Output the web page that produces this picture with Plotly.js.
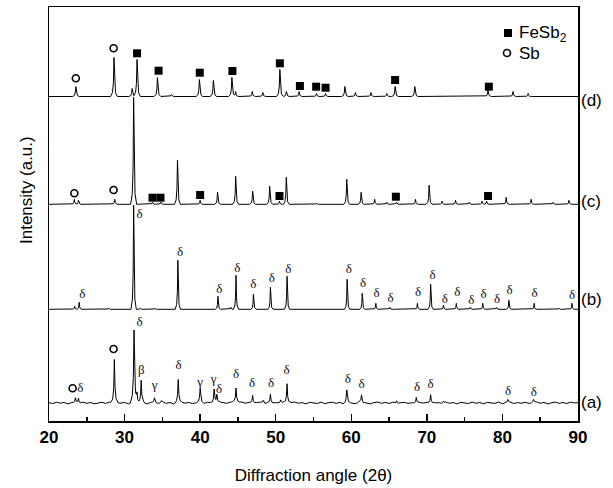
<!DOCTYPE html>
<html>
<head>
<meta charset="utf-8">
<script src="https://cdn.plot.ly/plotly-3.0.1.min.js"></script>
<style>html,body{margin:0;padding:0;background:#fff;}#chart{width:613px;height:488px;}</style>
</head>
<body>
<div id="chart"></div>
<script>
// ---------------- DATA ----------------
// Peak positions (2θ, degrees) and heights (a.u.) for each pattern, plus vertical offsets
const dBase = 324.5;
const dPos = [23.55, 28.6, 31.0, 31.65, 34.35, 36.2, 39.9, 41.75, 44.2, 44.7, 46.9, 48.3, 50.55, 51.4, 53.1, 55.4, 56.6, 59.15, 60.55, 62.6, 64.7, 65.8, 68.4, 78.1, 81.4, 83.4];
const dH   = [10, 39, 8, 37, 19, 2, 17, 16, 19, 5, 5, 4, 27, 5, 5, 3, 3, 10, 4, 4, 3, 10, 10, 7, 5, 3];

const cBase = 216.7;
const cPos = [23.35, 23.9, 28.7, 31.2, 33.7, 34.8, 37.0, 40.0, 42.3, 44.7, 46.95, 49.2, 50.5, 51.4, 55.4, 59.4, 61.3, 63.1, 64.7, 66.0, 68.5, 70.3, 72.0, 73.8, 75.6, 77.3, 77.9, 80.5, 83.8, 86.7, 88.8];
const cH   = [5, 4, 5, 107, 2, 2, 44, 4, 12, 28, 13, 18, 3, 27, 1, 25, 12, 5, 2, 2, 5, 19, 3, 4, 2, 3, 3, 7, 5, 2, 4];

const bBase = 111.7;
const bPos = [23.4, 24.0, 27.9, 31.2, 32.1, 34.0, 37.05, 42.35, 44.05, 44.75, 47.05, 49.3, 51.5, 59.45, 61.45, 63.25, 65.1, 68.75, 70.5, 72.2, 73.9, 75.75, 77.4, 79.2, 80.85, 84.2, 87.5, 89.2];
const bH   = [3, 7, 1, 104, 1, 1, 49, 13, 2, 34, 15, 22, 33, 30, 16, 6, 2, 6, 25, 4, 6, 2, 6, 2, 9, 6, 1, 6];

const aBase = 18;
const aPos = [23.5, 23.9, 28.65, 31.25, 31.65, 32.2, 33.95, 34.9, 37.1, 40.0, 41.85, 42.2, 44.75, 46.95, 48.35, 49.3, 50.65, 51.5, 59.4, 61.35, 66.0, 68.6, 70.5, 72.2, 80.7, 84.1];
const aH   = [5, 5, 44, 72, 8, 23, 5, 2, 23, 13, 14, 8, 14, 8, 3, 9, 3, 20, 13, 8, 3, 6, 9, 2, 3, 3];
// background noise of pattern (a), one value every 0.5° from 20° to 90°
const aNoise = [0.3,-0.5,0.8,-0.2,0.6,-0.9,0.4,0.1,-0.6,0.9,-0.3,0.5,-0.8,0.2,0.7,-0.4,0.9,-0.7,0.3,-0.1,
0.6,-0.8,0.4,1.0,-0.5,0.2,-0.9,0.7,0.1,-0.6,0.8,-0.3,0.5,-1.0,0.4,0.9,-0.2,0.6,-0.7,0.3,
1.1,-0.4,0.8,0.2,-0.6,1.2,0.5,-0.3,0.9,1.4,0.6,1.0,-0.2,0.7,-0.5,0.4,0.9,-0.8,0.3,-0.4,
0.6,-0.2,0.8,-0.7,0.5,1.0,-0.3,0.4,-0.9,0.7,0.2,-0.5,0.9,-0.6,0.3,0.8,-0.4,0.6,-1.0,0.5,
0.1,-0.7,0.8,-0.2,0.5,-0.9,0.4,1.0,-0.3,0.6,-0.5,0.9,-0.8,0.2,0.7,-0.4,0.5,-0.6,0.8,-0.1,
0.9,-0.7,0.3,0.6,-0.5,0.8,-0.2,0.4,-0.9,0.7,0.1,-0.6,1.0,-0.3,0.5,-0.8,0.6,0.2,-0.4,0.9,
-0.7,0.3,0.8,-0.5,0.4,-0.2,0.7,-0.9,0.5,1.0,-0.3,0.6,-0.8,0.2,0.9,-0.4,0.5,-0.6,0.8,0.1,0.3];

// Phase markers
const fesbX = [31.65, 34.5, 39.95, 44.27, 50.55, 53.2, 55.35, 56.6, 65.8, 78.2, 33.7, 34.75, 40.0, 50.5, 65.9, 78.1];
const fesbY = [367.7, 350.3, 348.3, 350.0, 357.7, 335.0, 334.3, 333.3, 341.0, 334.3, 223.3, 223.3, 226.0, 225.0, 224.3, 225.0];
const sbX = [23.55, 28.55, 23.35, 28.55, 23.13, 28.55];
const sbY = [342.7, 372.7, 227.7, 231.0, 32.7, 72.0];

const deltaX = [24.4, 32.0, 37.35, 42.55, 44.93, 47.05, 49.47, 51.67, 59.68, 61.57, 63.34, 65.19, 68.84, 70.74, 72.37, 74.04, 75.89, 77.52, 79.28, 80.95, 84.25, 89.2,
                24.15, 32.0, 37.13, 42.5, 44.75, 46.87, 49.38, 51.45, 59.55, 61.37, 68.71, 70.5, 80.73, 84.16];
const deltaY = [126, 206.7, 168.3, 131.7, 152, 136.7, 142.3, 151.7, 151, 137.7, 127, 122, 128.7, 145.3, 121.7, 128.3, 120.7, 126, 121, 130, 127.7, 125,
                32.7, 98.3, 55, 31.7, 46, 37.7, 37.7, 50, 41.7, 36.7, 33.3, 36.7, 29.3, 28.3];
const betaX = [32.2];
const betaY = [50];
const gammaX = [33.96, 40.0, 41.77];
const gammaY = [35, 38.7, 41.7];

const curveLabels = ['(d)', '(c)', '(b)', '(a)'];
const curveLabelY = [321, 219.3, 121.7, 18.3];
const xTickVals = [20, 30, 40, 50, 60, 70, 80, 90];

// ---------------- BUILD ----------------
const X0 = 20, X1 = 90, NSTEP = 0.5;
const tu = [-1, -0.45, -0.18, 0, 0.18, 0.45, 1];
const tv = [0, 0.1, 0.35, 1, 0.35, 0.1, 0];
function tmpl(u) {
  if (u <= -1 || u >= 1) return 0;
  for (let i = 0; i < tu.length - 1; i++) {
    if (u >= tu[i] && u <= tu[i+1]) {
      const f = (u - tu[i]) / (tu[i+1] - tu[i]);
      return tv[i] + f * (tv[i+1] - tv[i]);
    }
  }
  return 0;
}
function noiseAt(noise, x) {
  if (!noise) return 0;
  const t = (x - X0) / NSTEP;
  const i = Math.max(0, Math.min(noise.length - 2, Math.floor(t)));
  const f = t - i;
  return noise[i] + f * (noise[i+1] - noise[i]);
}
function buildPattern(pos, hts, base, w, noise) {
  let xsArr = [X0, X1];
  if (noise) noise.forEach((n, i) => xsArr.push(X0 + i * NSTEP));
  pos.forEach(p => tu.forEach(k => xsArr.push(p + k * w)));
  xsArr = xsArr.filter(x => x >= X0 && x <= X1).sort((a, b) => a - b);
  const xs = [], ys = [];
  xsArr.forEach(x => {
    if (xs.length && Math.abs(x - xs[xs.length-1]) < 1e-6) return;
    let y = base + noiseAt(noise, x);
    pos.forEach((p, j) => { y += hts[j] * tmpl((x - p) / w); });
    xs.push(x); ys.push(y);
  });
  return {x: xs, y: ys};
}

const lineStyle = {color: '#000', width: 1};
const patterns = [
  buildPattern(dPos, dH, dBase, 0.45, null),
  buildPattern(cPos, cH, cBase, 0.4, null),
  buildPattern(bPos, bH, bBase, 0.35, null),
  buildPattern(aPos, aH, aBase, 0.5, aNoise)
];
const traces = patterns.map((p, i) => ({
  x: p.x, y: p.y, type: 'scatter', mode: 'lines', line: lineStyle,
  name: curveLabels[i], showlegend: false, hoverinfo: 'skip'
}));

traces.push({x: fesbX, y: fesbY, type: 'scatter', mode: 'markers', name: 'FeSb2', showlegend: false,
  marker: {symbol: 'square', size: 8, color: '#000'}, cliponaxis: false});
traces.push({x: sbX, y: sbY, type: 'scatter', mode: 'markers', name: 'Sb', showlegend: false,
  marker: {symbol: 'circle-open', size: 7, color: '#000', line: {width: 1.6, color: '#000'}}, cliponaxis: false});

function greekTrace(xs, ys, ch) {
  return {x: xs, y: ys, type: 'scatter', mode: 'text', text: xs.map(() => ch),
    textposition: 'middle center',
    textfont: {family: 'Liberation Serif, DejaVu Serif, serif', size: 13, color: '#111'},
    showlegend: false, hoverinfo: 'skip', cliponaxis: false};
}
traces.push(greekTrace(deltaX, deltaY, 'δ'));
traces.push(greekTrace(betaX, betaY, 'β'));
traces.push(greekTrace(gammaX, gammaY, 'γ'));

// ---------------- LAYOUT ----------------
const W = 613, H = 488, ML = 49, MR = 35, MT = 7, MB = 67;
const PW = W - ML - MR, PH = H - MT - MB;
const px = v => (v - ML) / PW;          // pixel -> paper x
const py = v => (H - MB - v) / PH;      // pixel -> paper y
const sans = 'Liberation Sans, Arial, sans-serif';

const annotations = curveLabels.map((t, i) => ({
  text: t, xref: 'paper', x: 1, xanchor: 'left', xshift: 1,
  yref: 'y', y: curveLabelY[i], yanchor: 'middle', showarrow: false,
  font: {family: sans, size: 17, color: '#000'}
}));
annotations.push({text: 'FeSb<sub>2</sub>', xref: 'paper', yref: 'paper', x: px(517), y: py(34),
  xanchor: 'left', yanchor: 'middle', showarrow: false, font: {family: sans, size: 17, color: '#000'}});
annotations.push({text: 'Sb', xref: 'paper', yref: 'paper', x: px(517), y: py(54),
  xanchor: 'left', yanchor: 'middle', showarrow: false, font: {family: sans, size: 17, color: '#000'}});
annotations.push({text: 'Intensity (a.u.)', xref: 'paper', yref: 'paper', x: px(27), y: py(190),
  xanchor: 'center', yanchor: 'middle', textangle: -90, showarrow: false,
  font: {family: sans, size: 17, color: '#000'}});

const shapes = [
  {type: 'rect', xref: 'paper', yref: 'paper', x0: px(504), x1: px(512), y0: py(37), y1: py(29),
   fillcolor: '#000', line: {width: 0}},
  {type: 'circle', xref: 'paper', yref: 'paper', x0: px(503.5), x1: px(510.5), y0: py(56.5), y1: py(49.5),
   fillcolor: 'rgba(0,0,0,0)', line: {width: 1.6, color: '#000'}}
];

const layout = {
  width: W, height: H,
  margin: {l: ML, r: MR, t: MT, b: MB, pad: 0},
  paper_bgcolor: '#fff', plot_bgcolor: '#fff',
  showlegend: false,
  xaxis: {
    range: [20, 90], tickmode: 'array', tickvals: xTickVals,
    ticktext: xTickVals.map(v => '<b>' + v + '</b>'),
    ticks: 'inside', ticklen: 7, tickwidth: 1.5, tickcolor: '#000',
    minor: {dtick: 5, tick0: 0, ticks: 'inside', ticklen: 4, tickwidth: 1.5, tickcolor: '#000'},
    showline: true, linecolor: '#000', linewidth: 1.5, mirror: true,
    showgrid: false, zeroline: false,
    tickfont: {family: sans, size: 17, color: '#000', weight: 'bold'},
    title: {text: 'Diffraction angle (2θ)', font: {family: sans, size: 17, color: '#000'}, standoff: 23}
  },
  yaxis: {
    range: [0, 414], showticklabels: false, ticks: '',
    showline: true, linecolor: '#000', linewidth: 1.5, mirror: true,
    showgrid: false, zeroline: false
  },
  annotations: annotations,
  shapes: shapes
};

Plotly.newPlot('chart', traces, layout, {staticPlot: true, displayModeBar: false});
</script>
</body>
</html>
